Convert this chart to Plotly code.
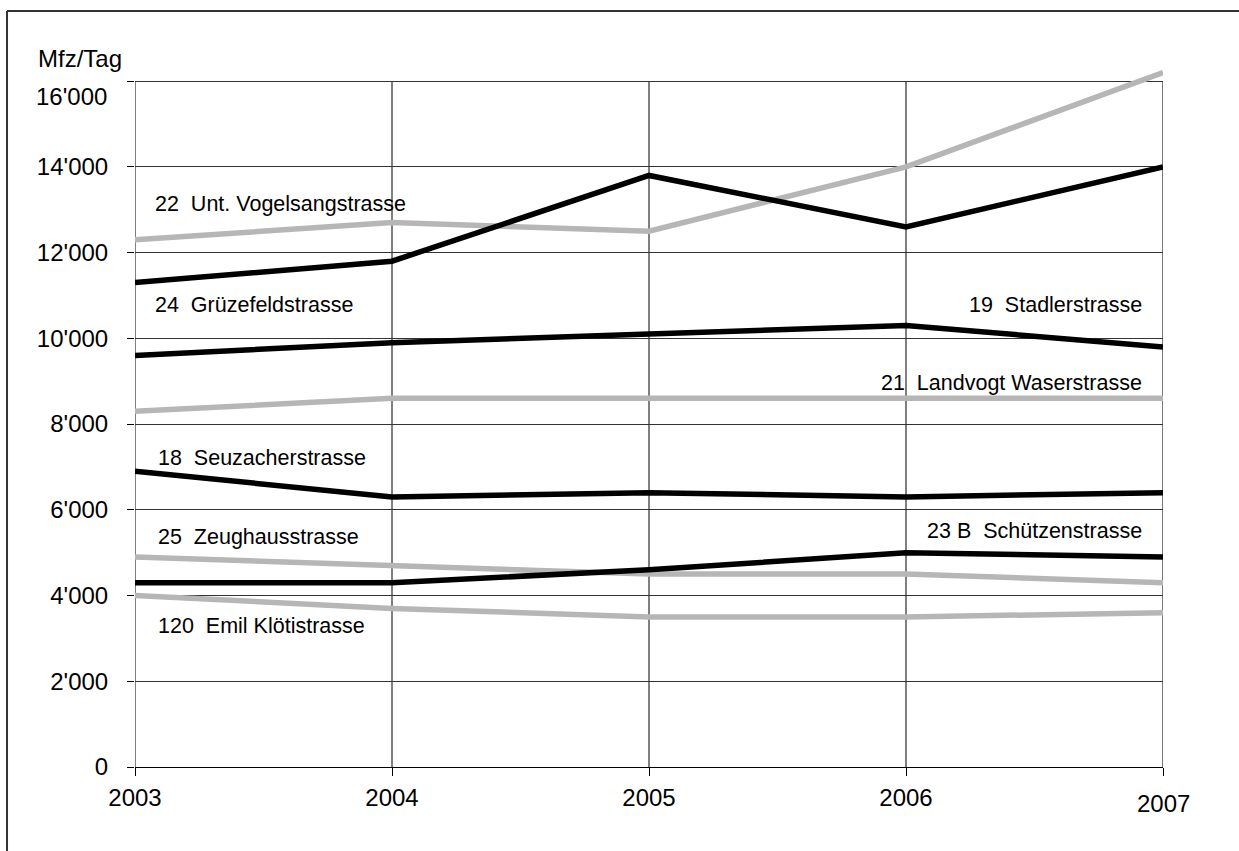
import plotly.graph_objects as go

years = [2003, 2004, 2005, 2006, 2007]

# black series
grz = [11300, 11800, 13800, 12600, 14000]      # 24 Grüzefeldstrasse
sta = [9600, 9900, 10100, 10300, 9800]         # 19 Stadlerstrasse
seu = [6900, 6300, 6400, 6300, 6400]           # 18 Seuzacherstrasse
sch = [4300, 4300, 4600, 5000, 4900]           # 23 B Schützenstrasse
# gray series
vog = [12300, 12700, 12500, 14000, 16200]      # 22 Unt. Vogelsangstrasse
lan = [8300, 8600, 8600, 8600, 8600]           # 21 Landvogt Waserstrasse
zeu = [4900, 4700, 4500, 4500, 4300]           # 25 Zeughausstrasse
emi = [4000, 3700, 3500, 3500, 3600]           # 120 Emil Klötistrasse

ytickvals = [0, 2000, 4000, 6000, 8000, 10000, 12000, 14000, 16000]
yticktext = ["0", "2'000", "4'000", "6'000", "8'000", "10'000", "12'000", "14'000", "16'000"]
xticktext = ["2003", "2004", "2005", "2006", "2007"]

labels = [
    ("22\u00a0\u00a0Unt. Vogelsangstrasse", 2003.071, 13130, "left"),
    ("24\u00a0\u00a0Grüzefeldstrasse", 2003.071, 10775, "left"),
    ("19\u00a0\u00a0Stadlerstrasse", 2006.925, 10775, "right"),
    ("21\u00a0\u00a0Landvogt Waserstrasse", 2006.925, 8956, "right"),
    ("18\u00a0\u00a0Seuzacherstrasse", 2003.082, 7207, "left"),
    ("25\u00a0\u00a0Zeughausstrasse", 2003.082, 5364, "left"),
    ("23 B\u00a0\u00a0Schützenstrasse", 2006.925, 5504, "right"),
    ("120\u00a0\u00a0Emil Klötistrasse", 2003.082, 3289, "left"),
]

FONT = "Liberation Sans, Arial, sans-serif"
GRAY = "#b6b6b6"
TICKSIZE = 24

fig = go.Figure()
for ys in [vog, lan, zeu, emi]:
    fig.add_trace(go.Scatter(x=years, y=ys, mode="lines",
                             line=dict(color=GRAY, width=5.5), hoverinfo="skip"))
for ys in [grz, sta, seu, sch]:
    fig.add_trace(go.Scatter(x=years, y=ys, mode="lines",
                             line=dict(color="black", width=5.5), hoverinfo="skip"))

shapes = []
for yr in years:
    shapes.append(dict(type="line", xref="x", yref="y", x0=yr, x1=yr, y0=0, y1=16000,
                       line=dict(color="#777777" if yr == 2007 else "black",
                                 width=2 if yr == 2007 else 1),
                       layer="below"))
# outer frame (top and left edges visible)
shapes.append(dict(type="line", xref="paper", yref="paper",
                   x0=-0.1245, x1=1.2, y0=1.0754, y1=1.0754,
                   line=dict(color="#333333", width=2)))
shapes.append(dict(type="line", xref="paper", yref="paper",
                   x0=-0.1245, x1=-0.1245, y0=-0.2, y1=1.0754,
                   line=dict(color="#333333", width=2)))

annotations = [dict(text=t, x=x, y=y, xref="x", yref="y", xanchor=a, yanchor="middle",
                    showarrow=False, font=dict(family=FONT, size=21.5, color="black"))
               for t, x, y, a in labels]
annotations.append(dict(text="Mfz/Tag", x=-0.0963, y=1.0085, xref="paper", yref="paper",
                        xanchor="left", yanchor="middle", showarrow=False,
                        font=dict(family=FONT, size=TICKSIZE, color="black")))
# top y label sits a little below its grid line
annotations.append(dict(text=yticktext[-1], x=-0.0255, y=ytickvals[-1], xref="paper", yref="y",
                        xanchor="right", yanchor="middle", yshift=-15, showarrow=False,
                        font=dict(family=FONT, size=TICKSIZE, color="black")))
# last x label sits a little lower
annotations.append(dict(text=xticktext[-1], x=years[-1], y=-0.0515, xref="x", yref="paper",
                        xanchor="center", yanchor="middle", showarrow=False,
                        font=dict(family=FONT, size=TICKSIZE, color="black")))

fig.update_layout(
    width=1239, height=851,
    margin=dict(l=135, r=76, t=64, b=84),
    paper_bgcolor="white", plot_bgcolor="white",
    showlegend=False,
    font=dict(family=FONT, size=TICKSIZE, color="black"),
    shapes=shapes, annotations=annotations,
    xaxis=dict(range=[2003, 2007], tickvals=years, ticktext=xticktext[:-1] + [""],
               showgrid=False, zeroline=False, showline=True, linecolor="black",
               linewidth=1, ticks="outside", ticklen=8, tickcolor="black",
               ticklabelstandoff=1, tickfont=dict(size=TICKSIZE)),
    yaxis=dict(range=[0, 16400], tickvals=ytickvals, ticktext=yticktext[:-1] + [""],
               showgrid=True, gridcolor="#333333", gridwidth=1, zeroline=False,
               showline=False, ticks="outside", ticklen=7, tickcolor="black",
               ticklabelstandoff=14, tickfont=dict(size=TICKSIZE)),
)

fig.write_html("out.html", config={"displayModeBar": False},
               post_script="document.body.style.margin='0';")
